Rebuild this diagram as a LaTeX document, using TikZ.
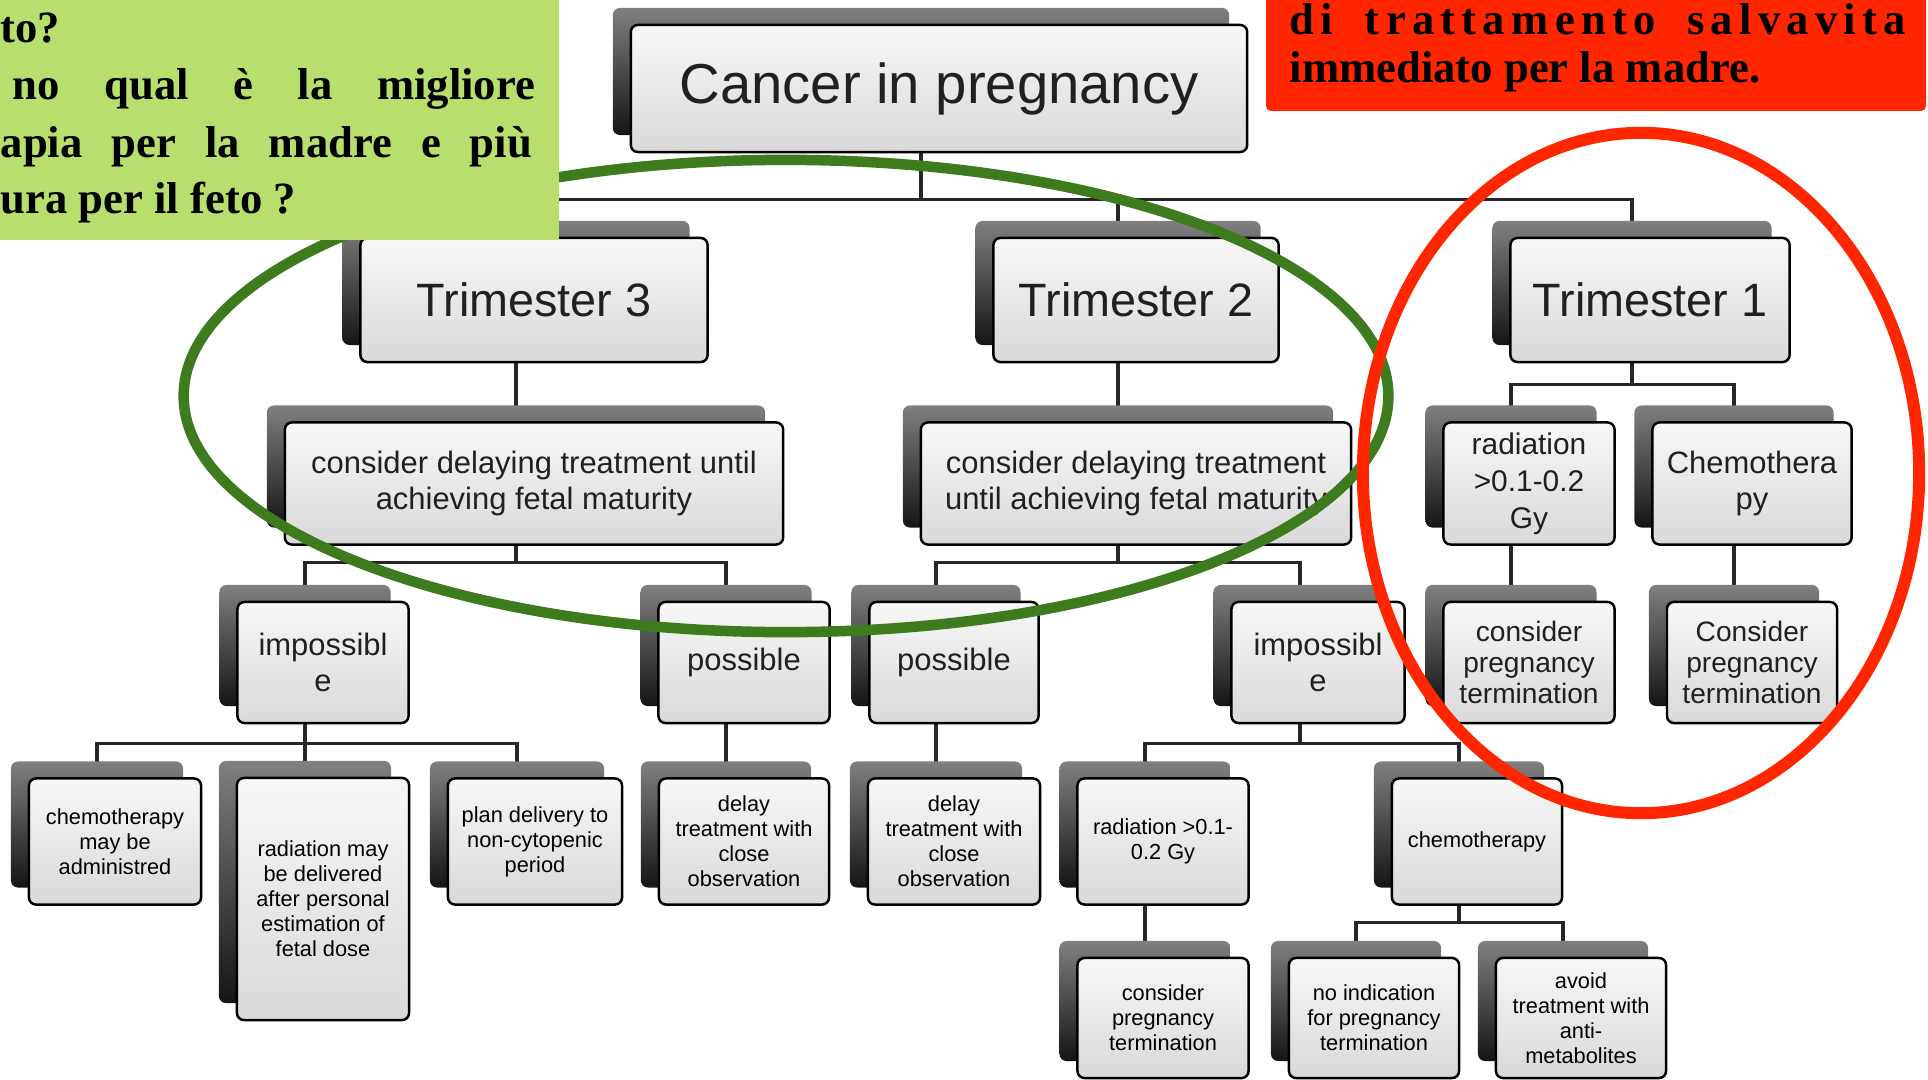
\documentclass[tikz,border=0pt]{standalone}
\usepackage{fontspec}
\setmainfont{Liberation Serif}
\setsansfont{Liberation Sans}
\usepackage{tikz}
\usetikzlibrary{shadows,backgrounds}
\definecolor{notegreen}{RGB}{184,222,110}
\definecolor{ringgreen}{RGB}{62,122,30}
\definecolor{alertred}{RGB}{255,38,0}
\definecolor{inkgray}{RGB}{32,32,32}

\begin{document}
\begin{tikzpicture}[x=0.01cm,y=-0.01cm,
            card/.style={rectangle, rounded corners=0.07cm, draw=black, line width=0.7pt,
                top color=black!3, bottom color=black!15, inner sep=0pt, align=center,
                text=inkgray,
                general shadow={shadow xshift=-0.18cm, shadow yshift=0.17cm, draw=none,
                    top color=black!50, bottom color=black!92}},
            rootcard/.style={card, font=\sffamily\fontsize{16}{19}\selectfont, minimum height=1.27cm},
            stage/.style={card, font=\sffamily\fontsize{13.3}{16}\selectfont, minimum height=1.24cm},
            branch/.style={card, font=\sffamily\fontsize{8.8}{10.3}\selectfont, minimum height=1.22cm},
            leaf/.style={card, font=\sffamily\fontsize{6.2}{7.1}\selectfont, minimum height=1.26cm, text=black},
            link/.style={line width=0.9pt, black!85},
            note/.style={font=\bfseries\fontsize{12.7}{15}\selectfont, inner sep=0pt, anchor=base west}]
            \useasboundingbox (0,0) rectangle (1928,1079);
            \clip (0,0) rectangle (1928,1079);
            %Boxes
            \node[rootcard, minimum width=6.16cm] (root) at (939,88.5) {Cancer in pregnancy};
            \node[stage, minimum width=3.47cm] (t3) at (534,300) {Trimester 3};
            \node[stage, minimum width=2.85cm] (t2) at (1136,300) {Trimester 2};
            \node[stage, minimum width=2.79cm] (t1) at (1650,300) {Trimester 1};
            \node[branch, minimum width=4.98cm] (d3) at (534,483.5) {consider delaying treatment until\\achieving fetal maturity};
            \node[branch, minimum width=4.30cm] (d2) at (1136,483.5) {consider delaying treatment\\until achieving fetal maturity};
            \node[branch, minimum width=1.71cm, font=\sffamily\fontsize{8.5}{10.5}\selectfont] (r1) at (1529,483.5) {radiation\\>0.1-0.2\\Gy};
            \node[branch, minimum width=1.99cm] (c1) at (1752,483.5) {Chemothera\\py};
            \node[branch, minimum width=1.71cm, minimum height=1.21cm] (i3) at (323,662.5) {impossibl\\e};
            \node[branch, minimum width=1.71cm, minimum height=1.21cm] (p3) at (744,662.5) {possible};
            \node[branch, minimum width=1.69cm, minimum height=1.21cm] (p2) at (954,662.5) {possible};
            \node[branch, minimum width=1.73cm, minimum height=1.21cm] (i2) at (1318,662.5) {impossibl\\e};
            \node[branch, minimum width=1.71cm, minimum height=1.21cm, font=\sffamily\fontsize{8}{8.9}\selectfont] (k1) at (1529,662.5) {consider\\pregnancy\\termination};
            \node[branch, minimum width=1.70cm, minimum height=1.21cm, font=\sffamily\fontsize{8}{8.9}\selectfont] (k2) at (1752,662.5) {Consider\\pregnancy\\termination};
            \node[leaf, minimum width=1.72cm] (m1) at (115,841.5) {chemotherapy\\may be\\administred};
            \node[leaf, minimum width=1.72cm, minimum height=2.42cm] (m2) at (323,899) {radiation may\\be delivered\\after personal\\estimation of\\fetal dose};
            \node[leaf, minimum width=1.74cm] (m3) at (535,841.5) {plan delivery to\\non-cytopenic\\period};
            \node[leaf, minimum width=1.70cm] (o3) at (744,841.5) {delay\\treatment with\\close\\observation};
            \node[leaf, minimum width=1.72cm] (o2) at (954,841.5) {delay\\treatment with\\close\\observation};
            \node[leaf, minimum width=1.71cm] (g2) at (1163,841.5) {radiation >0.1-\\0.2 Gy};
            \node[leaf, minimum width=1.70cm] (h2) at (1477,841.5) {chemotherapy};
            \node[leaf, minimum width=1.71cm, minimum height=1.20cm] (n1) at (1163,1018) {consider\\pregnancy\\termination};
            \node[leaf, minimum width=1.70cm, minimum height=1.20cm] (n2) at (1374,1018) {no indication\\for pregnancy\\termination};
            \node[leaf, minimum width=1.70cm, minimum height=1.20cm] (n3) at (1581,1018) {avoid\\treatment with\\anti-\\metabolites};
            %Connectors
            \begin{scope}[on background layer]
            \draw[link] ([xshift=-0.18cm]root.south) -- ++(0,46) -| ([xshift=-0.18cm]t3.north);
            \draw[link] ([xshift=-0.18cm]root.south) -- ++(0,46) -| ([xshift=-0.18cm]t2.north);
            \draw[link] ([xshift=-0.18cm]root.south) -- ++(0,46) -| ([xshift=-0.18cm]t1.north);
            \draw[link] ([xshift=-0.18cm]t3.south) -- ([xshift=-0.18cm]d3.north);
            \draw[link] ([xshift=-0.18cm]t2.south) -- ([xshift=-0.18cm]d2.north);
            \draw[link] ([xshift=-0.18cm]t1.south) -- ++(0,21) -| ([xshift=-0.18cm]r1.north);
            \draw[link] ([xshift=-0.18cm]t1.south) -- ++(0,21) -| ([xshift=-0.18cm]c1.north);
            \draw[link] ([xshift=-0.18cm]d3.south) -- ++(0,17) -| ([xshift=-0.18cm]i3.north);
            \draw[link] ([xshift=-0.18cm]d3.south) -- ++(0,17) -| ([xshift=-0.18cm]p3.north);
            \draw[link] ([xshift=-0.18cm]d2.south) -- ++(0,17) -| ([xshift=-0.18cm]p2.north);
            \draw[link] ([xshift=-0.18cm]d2.south) -- ++(0,17) -| ([xshift=-0.18cm]i2.north);
            \draw[link] ([xshift=-0.18cm]r1.south) -- ([xshift=-0.18cm]k1.north);
            \draw[link] ([xshift=-0.18cm]c1.south) -- ([xshift=-0.18cm]k2.north);
            \draw[link] ([xshift=-0.18cm]i3.south) -- ++(0,19) -| ([xshift=-0.18cm]m1.north);
            \draw[link] ([xshift=-0.18cm]i3.south) -- ([xshift=-0.18cm]m2.north);
            \draw[link] ([xshift=-0.18cm]i3.south) -- ++(0,19) -| ([xshift=-0.18cm]m3.north);
            \draw[link] ([xshift=-0.18cm]p3.south) -- ([xshift=-0.18cm]o3.north);
            \draw[link] ([xshift=-0.18cm]p2.south) -- ([xshift=-0.18cm]o2.north);
            \draw[link] ([xshift=-0.18cm]i2.south) -- ++(0,19) -| ([xshift=-0.18cm]g2.north);
            \draw[link] ([xshift=-0.18cm]i2.south) -- ++(0,19) -| ([xshift=-0.18cm]h2.north);
            \draw[link] ([xshift=-0.18cm]g2.south) -- ([xshift=-0.18cm]n1.north);
            \draw[link] ([xshift=-0.18cm]h2.south) -- ++(0,17) -| ([xshift=-0.18cm]n2.north);
            \draw[link] ([xshift=-0.18cm]h2.south) -- ++(0,17) -| ([xshift=-0.18cm]n3.north);
            \end{scope}
            %Rings
            \draw[ringgreen, line width=0.105cm] (786,396) ellipse [x radius=6.02cm, y radius=2.36cm];
            \draw[alertred, line width=0.12cm] (1641,473) ellipse [x radius=2.78cm, y radius=3.40cm];
            %Notes
            \fill[notegreen] (0,0) rectangle (559,240);
            \fill[alertred, rounded corners=0.05cm] (1266,-20) rectangle (1926,111);
            \node[note] (q1) at (0,43) {to?};
            \node[note] (q2) at (12,100) {\makebox[5.22cm][s]{no qual è la migliore}};
            \node[note] (q3) at (0,157) {\makebox[5.31cm][s]{apia per la madre e più}};
            \node[note] (q4) at (0,213) {ura per il feto ?};
            \node[note] (w1) at (1289,35) {\makebox[6.16cm][s]{\addfontfeature{LetterSpace=14}di trattamento salvavita}};
            \node[note] (w2) at (1289,83) {immediato per la madre.};
\end{tikzpicture}
\end{document}
